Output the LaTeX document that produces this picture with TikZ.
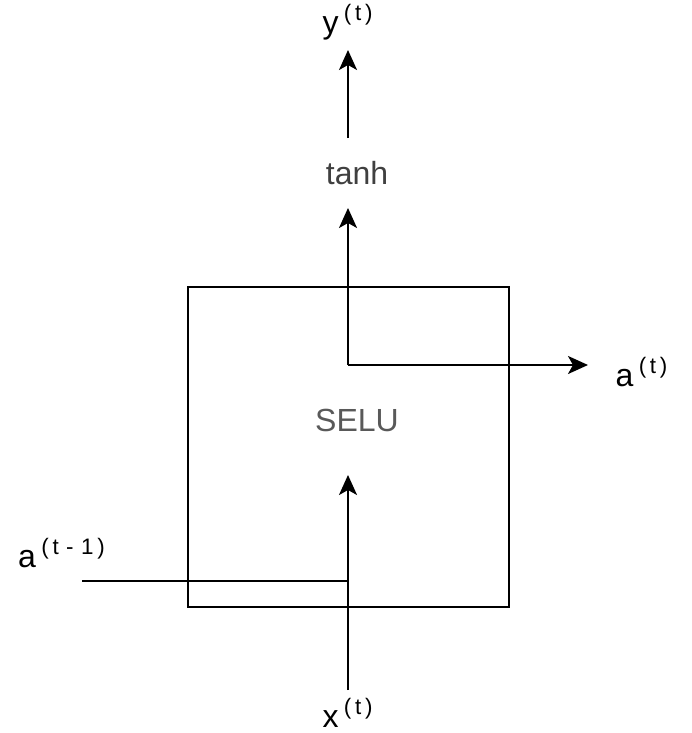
\documentclass[tikz,border=0pt]{standalone}
\usepackage{fontspec}
\setmainfont{Liberation Sans}
\usetikzlibrary{arrows.meta, positioning}
\newcommand{\sups}[1]{\,\textsuperscript{#1}}

\begin{document}
\begin{tikzpicture}[>={Stealth[length=10pt, width=9pt, inset=2.5pt]}, x=0.5pt, y=-0.5pt,
    line width=1pt, font=\fontsize{16}{19}\selectfont]
    \useasboundingbox (0,0) rectangle (691,733);
    \node[draw, minimum width=160.5pt, minimum height=160pt] (cell) at (348.5,447) {};
    \node[text=black!65] (selu) at (357,420) {SELU};
    \node[text=black!75, minimum height=34pt] (tanh) at (357,173) {tanh};

    \node (yout) at (348,22) {y\sups{(\,t\,)}};
    \node (anew) at (642,372) {a\sups{(\,t\,)}};
    \node (aprev) at (62,553) {a\sups{(\,t\,\,-\,\,1\,)}};
    \node (xin) at (348,713) {x\sups{(\,t\,)}};

    \coordinate (xstart) at (348,690);
    \coordinate (join) at (348,581);
    \coordinate (aend) at (82,581);
    \coordinate (xtip) at (348,475);
    \coordinate (split) at (348,365);
    \coordinate (atip) at (588,365);
    \coordinate (ytip) at (348,50);

    \draw (aend) -- (join);
    \draw[->] (xstart) -- (xtip);
    \draw[->] (split) -- (split |- tanh.south);
    \draw[->] (split) -- (atip);
    \draw[->] (tanh.north -| split) -- (ytip);
\end{tikzpicture}
\end{document}
